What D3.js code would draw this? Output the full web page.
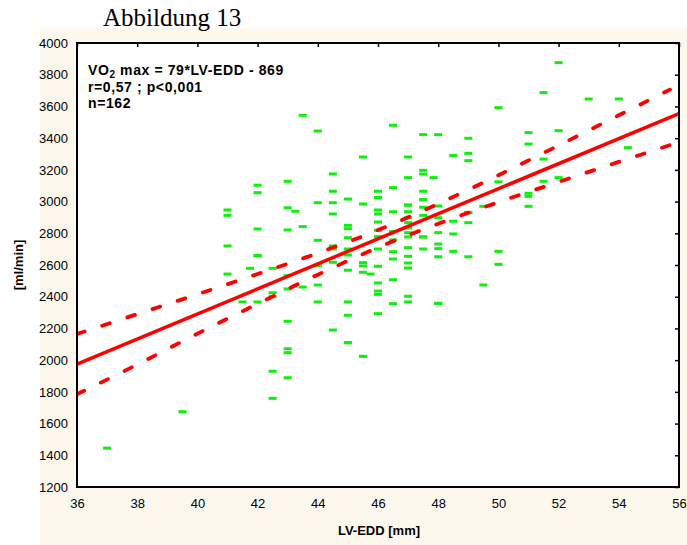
<!DOCTYPE html>
<html>
<head>
<meta charset="utf-8">
<script src="https://cdn.jsdelivr.net/npm/d3@7"></script>
<style>
  html, body { margin: 0; padding: 0; background: #fff; }
  svg { display: block; }
  .tick text { font-family: "Liberation Sans", Arial, sans-serif; font-size: 13px; fill: #000; }
</style>
</head>
<body>
<div id="chart"></div>
<script>
// Axis ticks
const xTicks = [36, 38, 40, 42, 44, 46, 48, 50, 52, 54, 56];
const yTicks = [1200, 1400, 1600, 1800, 2000, 2200, 2400, 2600, 2800, 3000, 3200, 3400, 3600, 3800, 4000];

// Scatter points: LV-EDD [mm] and VO2 max [ml/min]
const lvEdd = [
  37, 39.5,
  41, 41, 41, 41,
  41.5, 41.75,
  42, 42, 42, 42, 42, 42,
  42.5, 42.5, 42.5, 42.5, 42.5,
  43, 43, 43, 43, 43, 43, 43, 43, 43,
  43.25,
  43.5, 43.5, 43.5,
  44, 44, 44, 44, 44, 44,
  44.5, 44.5, 44.5, 44.5, 44.5, 44.5, 44.5, 44.5,
  45, 45, 45, 45, 45, 45, 45, 45, 45, 45, 45,
  45.5, 45.5, 45.5, 45.5, 45.5, 45.5,
  45.75,
  46, 46, 46, 46, 46, 46, 46, 46, 46, 46, 46, 46, 46, 46,
  46.5, 46.5, 46.5, 46.5, 46.5, 46.5, 46.5, 46.5, 46.5,
  47, 47, 47, 47, 47, 47, 47, 47, 47, 47, 47, 47, 47, 47, 47, 47,
  47.5, 47.5, 47.5, 47.5, 47.5, 47.5, 47.5, 47.5, 47.5, 47.5, 47.5,
  47.85,
  48, 48, 48, 48, 48, 48, 48, 48, 48,
  48.5, 48.5, 48.5, 48.5,
  49, 49, 49, 49, 49, 49, 49,
  49.5, 49.5,
  50, 50, 50, 50,
  51, 51, 51, 51, 51,
  51.5, 51.5, 51.5,
  52, 52, 52,
  53, 54, 54.3
];
const vo2max = [
  1445, 1675,
  2947, 2913, 2720, 2543,
  2367, 2579,
  3103, 3056, 2827, 2659, 2659, 2367,
  2579, 2425, 2400, 1930, 1759,
  3128, 2961, 2821, 2533, 2449, 2245, 2072, 2047, 1889,
  2939,
  3544, 2842, 2461,
  3445, 2993, 2756, 2596, 2474, 2367,
  3174, 3065, 2993, 2922, 2720, 2701, 2617, 2190,
  3016, 2850, 2829, 2772, 2701, 2663, 2567, 2367, 2283, 2110, 2110,
  3281, 2985, 2615, 2594, 2554, 2024,
  2543,
  3065, 3025, 3025, 2947, 2922, 2871, 2819, 2779, 2701, 2592, 2487, 2436, 2415, 2293,
  3481, 3088, 2936, 2811, 2758, 2684, 2638, 2507, 2356,
  3281, 3151, 2978, 2978, 2936, 2898, 2867, 2833, 2804, 2777, 2709, 2655, 2613, 2581, 2403, 2367,
  3422, 3197, 3174, 3065, 3012, 3012, 2964, 2913, 2777, 2777, 2701,
  3151,
  3422, 2972, 2898, 2804, 2732, 2703, 2652, 2358, 2358,
  3291, 2876, 2796, 2686,
  3399, 3304, 3258, 2930, 2930, 2867, 2652,
  2970, 2474,
  3592, 3125, 2686, 2604,
  3435, 3363, 3052, 3033, 2970,
  3687, 3268, 3128,
  3876, 3447, 3151,
  3647, 3647, 3340
];

// Regression line and confidence band
const fitX = [36, 56];
const fitY = [1975, 3555];
const bandX = [36, 38, 40, 42, 44, 46, 48, 50, 52, 54, 55.7];
const bandUpper = [2165, 2290, 2415, 2543, 2675, 2820, 2986, 3166, 3354, 3544, 3706];
const bandLower = [1785, 1972, 2167, 2355, 2539, 2710, 2860, 2996, 3124, 3250, 3356];

const annotation = ["r=0,57 ; p<0,001", "n=162"];

const width = 687, height = 545;
const margin = { top: 43, right: 8, bottom: 58, left: 77 };
const innerW = width - margin.left - margin.right;
const innerH = height - margin.top - margin.bottom;

const svg = d3.select('#chart').append('svg')
  .attr('width', width)
  .attr('height', height);

// soft edges for the scatter dashes
svg.append('defs').append('filter')
  .attr('id', 'soft')
  .append('feGaussianBlur')
  .attr('stdDeviation', 0.45);

// cream panel behind the chart
svg.append('rect')
  .attr('x', 40).attr('y', 28)
  .attr('width', width - 40).attr('height', height - 28)
  .attr('fill', '#fdf8ee');

svg.append('text')
  .attr('x', 103).attr('y', 26)
  .attr('font-family', '"Liberation Serif", "Times New Roman", serif')
  .attr('font-size', 25)
  .text('Abbildung 13');

const x = d3.scaleLinear().domain([36, 56]).range([margin.left, margin.left + innerW]);
const y = d3.scaleLinear().domain([1200, 4000]).range([margin.top + innerH, margin.top]);

svg.append('rect')
  .attr('x', margin.left).attr('y', margin.top)
  .attr('width', innerW).attr('height', innerH)
  .attr('fill', '#fff');

svg.append('clipPath').attr('id', 'plot-clip')
  .append('rect')
  .attr('x', margin.left).attr('y', margin.top)
  .attr('width', innerW).attr('height', innerH);

const plot = svg.append('g').attr('clip-path', 'url(#plot-clip)');

// scatter marks (short green dashes)
const points = lvEdd.map((d, i) => ({ x: d, y: vo2max[i] }));
plot.append('g')
  .attr('filter', 'url(#soft)')
  .selectAll('.pt')
  .data(points)
  .enter()
  .append('rect')
  .attr('class', 'pt')
  .attr('x', d => x(d.x) - 4)
  .attr('y', d => y(d.y) - 1.5)
  .attr('width', 8)
  .attr('height', 3)
  .attr('fill', '#10f010');

const line = d3.line()
  .x(d => x(d[0]))
  .y(d => y(d[1]))
  .curve(d3.curveMonotoneX);

plot.append('path')
  .datum(fitX.map((d, i) => [d, fitY[i]]))
  .attr('d', line)
  .attr('fill', 'none')
  .attr('stroke', '#ff0000')
  .attr('stroke-width', 3.5)
  .attr('stroke-linecap', 'round');

[bandUpper, bandLower].forEach(band => {
  plot.append('path')
    .datum(bandX.map((d, i) => [d, band[i]]))
    .attr('d', line)
    .attr('fill', 'none')
    .attr('stroke', '#ff0000')
    .attr('stroke-width', 3.8)
    .attr('stroke-linecap', 'round')
    .attr('stroke-dasharray', '8,18.5');
});

// axes: labels on left/bottom, inward ticks on top/right
svg.append('g')
  .attr('transform', `translate(${margin.left},0)`)
  .call(d3.axisLeft(y).tickValues(yTicks).tickSize(0).tickPadding(9).tickFormat(d3.format('d')))
  .call(g => g.select('.domain').remove());

svg.append('g')
  .attr('transform', `translate(0,${margin.top + innerH})`)
  .call(d3.axisBottom(x).tickValues(xTicks).tickSize(0).tickPadding(12).tickFormat(d3.format('d')))
  .call(g => g.select('.domain').remove());

svg.append('g')
  .attr('transform', `translate(0,${margin.top})`)
  .call(d3.axisTop(x).tickValues(xTicks).tickSize(-4).tickFormat(''))
  .call(g => g.select('.domain').remove())
  .call(g => g.selectAll('line').attr('stroke', '#000').attr('stroke-width', 1.5));

svg.append('g')
  .attr('transform', `translate(${margin.left + innerW},0)`)
  .call(d3.axisRight(y).tickValues(yTicks).tickSize(-4).tickFormat(''))
  .call(g => g.select('.domain').remove())
  .call(g => g.selectAll('line').attr('stroke', '#000').attr('stroke-width', 1.5));

// frame
svg.append('rect')
  .attr('x', margin.left).attr('y', margin.top)
  .attr('width', innerW).attr('height', innerH)
  .attr('fill', 'none')
  .attr('stroke', '#000')
  .attr('stroke-width', 2);

// axis titles
svg.append('text')
  .attr('x', margin.left + innerW / 2 + 1)
  .attr('y', 535)
  .attr('text-anchor', 'middle')
  .attr('font-family', '"Liberation Sans", Arial, sans-serif')
  .attr('font-size', 13)
  .attr('font-weight', 'bold')
  .text('LV-EDD [mm]');

svg.append('text')
  .attr('transform', 'translate(23,265) rotate(-90)')
  .attr('text-anchor', 'middle')
  .attr('font-family', '"Liberation Sans", Arial, sans-serif')
  .attr('font-size', 13)
  .attr('font-weight', 'bold')
  .text('[ml/min]');

// regression annotation
const note = svg.append('g')
  .attr('font-family', '"Liberation Sans", Arial, sans-serif')
  .attr('font-size', 14)
  .attr('font-weight', 'bold')
  .attr('letter-spacing', 0.6);

const eq = note.append('text').attr('x', 88).attr('y', 75);
eq.append('tspan').text('VO');
eq.append('tspan').attr('font-size', 10).attr('dy', 3).text('2');
eq.append('tspan').attr('dy', -3).text(' max = 79*LV-EDD - 869');

note.selectAll('.line')
  .data(annotation)
  .enter()
  .append('text')
  .attr('class', 'line')
  .attr('x', 88)
  .attr('y', (d, i) => 92 + i * 16)
  .text(d => d);
</script>
</body>
</html>
